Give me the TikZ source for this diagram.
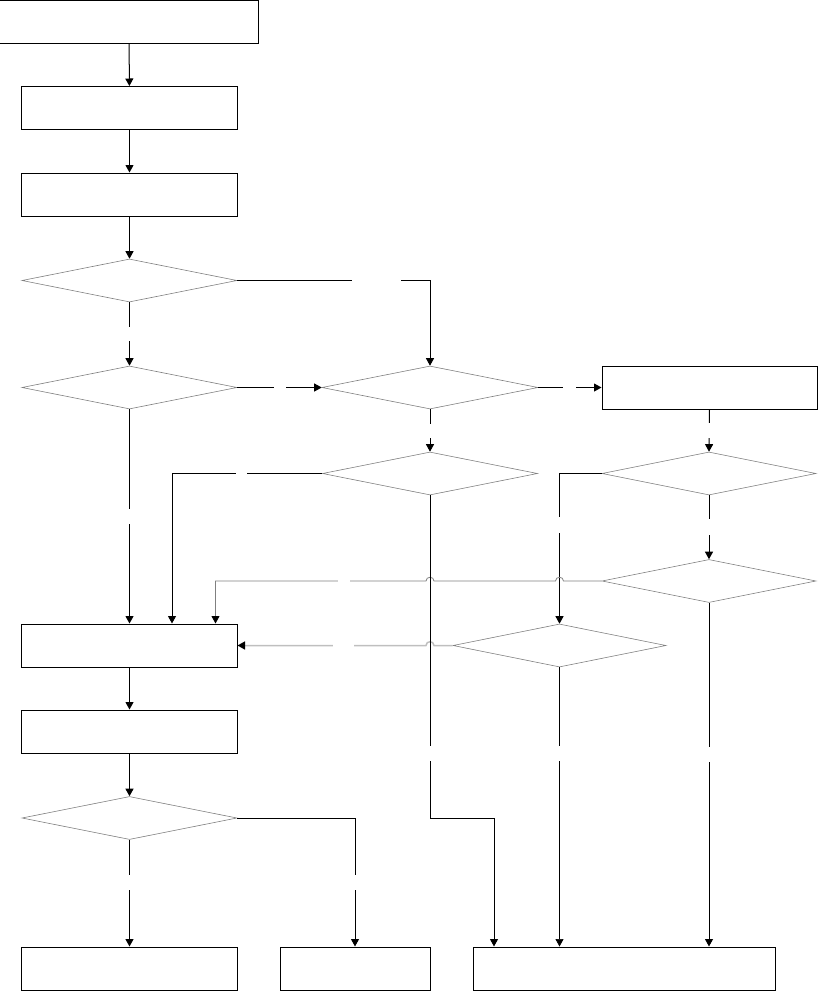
\documentclass[tikz,border=0pt]{standalone}
\usetikzlibrary{shapes.geometric,arrows.meta,calc}
\tikzset{
    boite/.style={draw, line width=1bp, minimum width=215bp, minimum height=43bp, inner sep=0pt},
    losange/.style={diamond, draw=gray, line width=0.6bp, minimum width=215bp, minimum height=43bp, inner sep=0pt},
    pointe/.tip={Triangle[length=7.5bp,width=8bp,color=black]},
    fleche/.style={line width=1bp, -pointe},
    trouh/.style={fill=white, inner sep=0pt, minimum height=4bp},
    trouv/.style={fill=white, inner sep=0pt, minimum width=4bp},
}
\begin{document}
\begin{tikzpicture}[x=1bp, y=-1bp]
            \useasboundingbox (0,0) rectangle (818,991);

            \node[boite, minimum width=258bp] (b1) at (129,21.5) {}; %debut
            \node[boite] (b2) at (129.5,108) {};
            \node[boite] (b3) at (129.5,194.5) {};
            \node[losange] (d1) at (129.5,280.5) {};
            \node[losange] (d2) at (129.5,387.5) {};
            \node[losange, minimum width=216bp] (d3) at (430,387.5) {};
            \node[boite] (b4) at (709.5,387.5) {};
            \node[losange] (d4) at (430,473.5) {};
            \node[losange, minimum width=214bp] (d5) at (709,473.5) {};
            \node[losange, minimum width=214bp] (d6) at (709,581) {};
            \node[losange, minimum width=213bp] (d7) at (559.5,645.5) {};
            \node[boite] (b5) at (129.5,645.5) {};
            \node[boite] (b6) at (129.5,731.5) {};
            \node[losange] (d8) at (129.5,818) {};
            \node[boite] (b7) at (129.5,968.5) {}; %fin gauche
            \node[boite, minimum width=150bp] (b8) at (355,968.5) {}; %fin milieu
            \node[boite, minimum width=302bp] (b9) at (624,968.5) {}; %fin droite

            \draw[fleche] (b1) -- (b2);
            \draw[fleche] (b2) -- (b3);
            \draw[fleche] (b3) -- (d1);
            \draw[fleche] (d1) -- node[trouv, minimum height=14bp] {} (d2);
            \draw[fleche] (d1.east) -| node[trouh, minimum width=49bp, pos=.36] {} (d3.north);
            \draw[fleche] (d2.east) -- node[trouh, minimum width=12bp] {} (d3.west);
            \draw[fleche] (d3.east) -- node[trouh, minimum width=13bp] {} (b4.west);
            \draw[fleche] (d3.south) -- node[trouv, minimum height=14bp] {} (d4.north);
            \draw[fleche] (b4.south) -- node[trouv, minimum height=15bp] {} (d5.north);
            \draw[fleche] (d5.south) -- node[trouv, minimum height=16bp] {} (d6.north);
            \draw[fleche] (d2.south) -- node[trouv, minimum height=15bp] {} (b5.north);
            \draw[fleche] (d4.west) -| node[trouh, minimum width=11bp, pos=.27] {} ([xshift=42.5bp]b5.north);
            \draw[fleche] (d5.west) -| node[trouv, minimum height=16bp, pos=.67] {} (d7.north);

            % retour gris avec sauts
            \draw[fleche, line width=0.8bp, gray] (d6.west) -- ([xshift=4bp]d7.north |- d6.west)
                .. controls +(0,-5) and +(0,-5) .. ([xshift=-4bp]d7.north |- d6.west)
                -- ([xshift=4bp]d4.south |- d6.west)
                .. controls +(0,-5) and +(0,-5) .. ([xshift=-4bp]d4.south |- d6.west)
                -- node[trouh, minimum width=12bp, pos=.39] {} ([xshift=86bp]b5.north |- d6.west)
                -- ([xshift=86bp]b5.north);
            \draw[fleche, line width=1.5bp, black!25] (d7.west) -- ([xshift=4bp]d4.south |- d7.west)
                .. controls +(0,-5) and +(0,-5) .. ([xshift=-4bp]d4.south |- d7.west)
                -- node[trouh, minimum width=21bp, pos=.44] {} (b5.east);

            \draw[fleche] (d4.south) -- node[trouv, minimum height=15bp, pos=.8] {} (d4.south |- d8.east)
                -| ([xshift=-130bp]b9.north);
            \draw[fleche, line width=0.6bp] (d7.south) -- node[trouv, minimum height=15bp, pos=.31] {} (d7.south |- b9.north);
            \draw[fleche] (d6.south) -- node[trouv, minimum height=15bp, pos=.44] {} (d6.south |- b9.north);

            \draw[fleche] (b5) -- (b6);
            \draw[fleche] (b6) -- (d8);
            \draw[fleche] (d8.south) -- node[trouv, minimum height=15bp, pos=.4] {} (b7.north);
            \draw[fleche] (d8.east) -| node[trouv, minimum height=15bp, pos=.75] {} (b8.north);
\end{tikzpicture}
\end{document}
